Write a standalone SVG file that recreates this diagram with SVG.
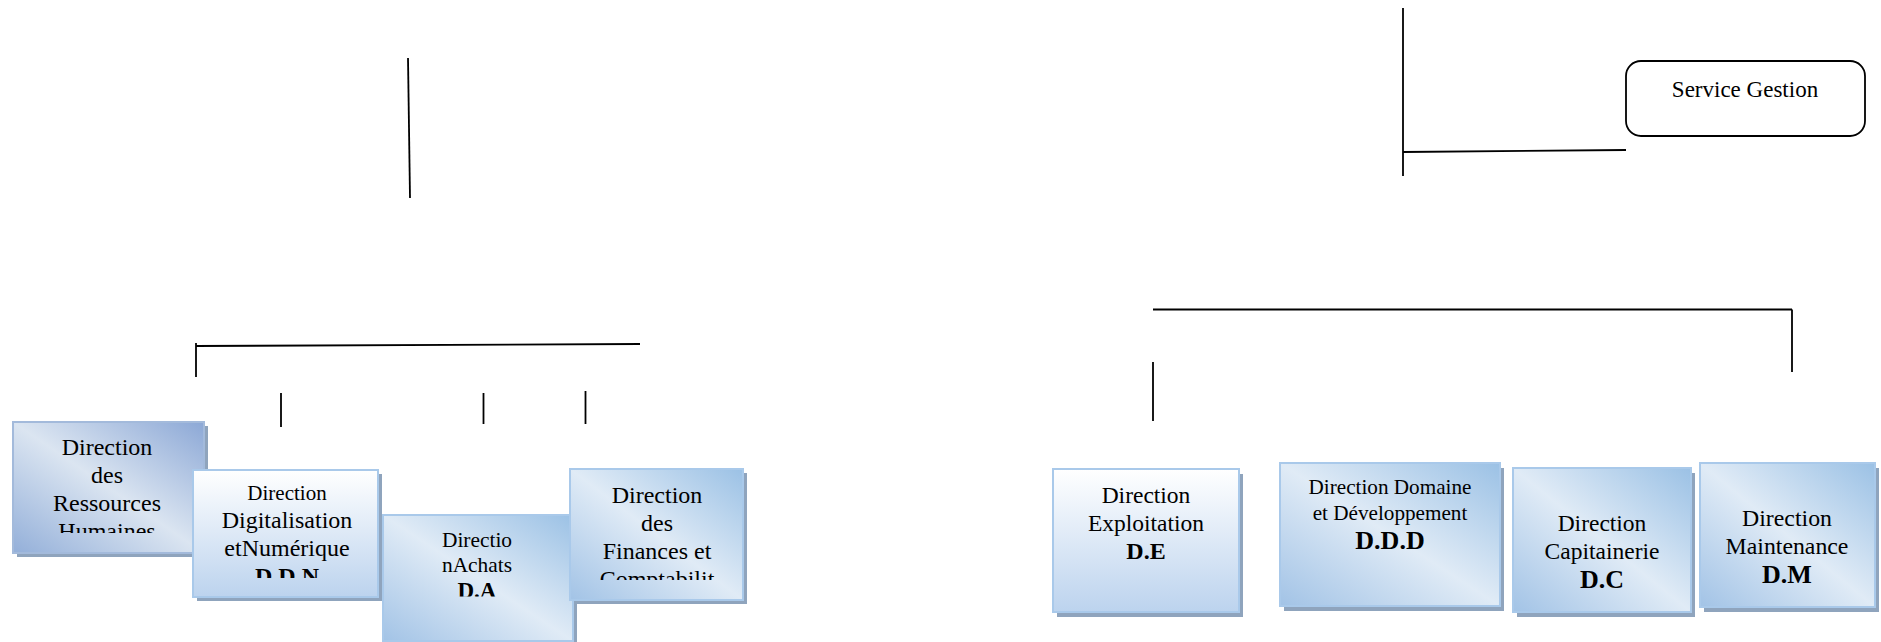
<svg xmlns="http://www.w3.org/2000/svg" width="1881" height="642" viewBox="0 0 1881 642">
<style>
.ln{stroke:#000;stroke-width:1.8;fill:none}
.sh{fill:#8fa4bd}
.bx{stroke:#a9c9ea;stroke-width:2}
.bx1{stroke:#a3badb;stroke-width:2}
.b{font-weight:bold}
</style>
<defs>
<linearGradient id="gA" x1="1" y1="0" x2="0" y2="1">
<stop offset="0" stop-color="#8ca8d6"/><stop offset="0.5" stop-color="#dbe5f1"/><stop offset="1" stop-color="#93afd9"/>
</linearGradient>
<linearGradient id="gB" x1="1" y1="0" x2="0" y2="1">
<stop offset="0" stop-color="#9bc1e5"/><stop offset="0.5" stop-color="#e0ebf6"/><stop offset="1" stop-color="#a2c3e6"/>
</linearGradient>
<linearGradient id="gC" x1="0" y1="0" x2="0" y2="1">
<stop offset="0" stop-color="#ffffff"/><stop offset="1" stop-color="#bcd3ee"/>
</linearGradient>
<clipPath id="c1"><rect x="13" y="422" width="191" height="111"/></clipPath>
<clipPath id="c2"><rect x="193" y="470" width="185" height="108"/></clipPath>
<clipPath id="c3"><rect x="383" y="515" width="190" height="81.5"/></clipPath>
<clipPath id="c4"><rect x="570" y="469" width="173" height="111"/></clipPath>
</defs>
<g id="connectors">
<line class="ln" x1="408" y1="58" x2="410" y2="198"/>
<line class="ln" x1="196" y1="346" x2="640" y2="344"/>
<line class="ln" x1="196" y1="343" x2="196" y2="377"/>
<line class="ln" x1="281" y1="393" x2="281" y2="427"/>
<line class="ln" x1="483.5" y1="393" x2="483.5" y2="424"/>
<line class="ln" x1="585.5" y1="391" x2="585.5" y2="424"/>
<line class="ln" x1="1403" y1="8" x2="1403" y2="176"/>
<line class="ln" x1="1403" y1="152" x2="1626" y2="150"/>
<line class="ln" x1="1153" y1="309.5" x2="1792" y2="309.5"/>
<line class="ln" x1="1792" y1="309.5" x2="1792" y2="372"/>
<line class="ln" x1="1153" y1="362" x2="1153" y2="421"/>
</g>
<g font-family="'Liberation Serif', 'DejaVu Serif', 'Times New Roman', serif" text-anchor="middle" fill="#000">
<g id="service-gestion">
<rect x="1626" y="61" width="239" height="75" rx="15" fill="#fff" stroke="#000" stroke-width="1.8"/>
<text x="1745" y="97" font-size="23">Service Gestion</text>
</g>
<g id="drh">
<rect class="sh" x="17" y="426" width="191" height="131"/>
<rect class="bx1" x="13" y="422" width="191" height="131" fill="url(#gA)"/>
<g clip-path="url(#c1)" font-size="24">
<text x="107" y="455">Direction</text>
<text x="107" y="483">des</text>
<text x="107" y="511">Ressources</text>
<text x="107" y="539">Humaines</text>
</g>
</g>
<g id="ddn">
<rect class="sh" x="197" y="474" width="185" height="127"/>
<rect class="bx" x="193" y="470" width="185" height="127" fill="url(#gC)"/>
<g clip-path="url(#c2)" font-size="24">
<text x="287" y="500" font-size="21">Direction</text>
<text x="287" y="528">Digitalisation</text>
<text x="287" y="556">etNumérique</text>
<text x="287" y="584" class="b">D.D.N</text>
</g>
</g>
<g id="da">
<rect class="sh" x="387" y="519" width="190" height="126"/>
<rect class="bx" x="383" y="515" width="190" height="126" fill="url(#gB)"/>
<g clip-path="url(#c3)" font-size="21.4">
<text x="477" y="547">Directio</text>
<text x="477" y="572">nAchats</text>
<text x="477" y="598" class="b" font-size="23">D.A</text>
</g>
</g>
<g id="dfc">
<rect class="sh" x="574" y="473" width="173" height="131"/>
<rect class="bx" x="570" y="469" width="173" height="131" fill="url(#gB)"/>
<g clip-path="url(#c4)" font-size="24">
<text x="657" y="503">Direction</text>
<text x="657" y="531">des</text>
<text x="657" y="559">Finances et</text>
<text x="657" y="587">Comptabilit</text>
</g>
</g>
<g id="de">
<rect class="sh" x="1057" y="474" width="186" height="143"/>
<rect class="bx" x="1053" y="469" width="186" height="143" fill="url(#gC)"/>
<text x="1146" y="503" font-size="23.5">Direction</text>
<text x="1146" y="531" font-size="23.5">Exploitation</text>
<text x="1146" y="559" font-size="24" class="b">D.E</text>
</g>
<g id="ddd">
<rect class="sh" x="1284" y="468" width="220" height="143"/>
<rect class="bx" x="1280" y="463" width="220" height="143" fill="url(#gB)"/>
<text x="1390" y="494" font-size="21.2">Direction Domaine</text>
<text x="1390" y="520" font-size="21.2">et Développement</text>
<text x="1390" y="549" font-size="26" class="b">D.D.D</text>
</g>
<g id="dc">
<rect class="sh" x="1517" y="473" width="178" height="144"/>
<rect class="bx" x="1513" y="468" width="178" height="144" fill="url(#gB)"/>
<text x="1602" y="531" font-size="23.5">Direction</text>
<text x="1602" y="559" font-size="23.5">Capitainerie</text>
<text x="1602" y="588" font-size="26" class="b">D.C</text>
</g>
<g id="dm">
<rect class="sh" x="1704" y="468" width="175" height="144"/>
<rect class="bx" x="1700" y="463" width="175" height="144" fill="url(#gB)"/>
<text x="1787" y="526" font-size="23.8">Direction</text>
<text x="1787" y="554" font-size="23.8">Maintenance</text>
<text x="1787" y="583" font-size="26" class="b">D.M</text>
</g>
</g>
</svg>
